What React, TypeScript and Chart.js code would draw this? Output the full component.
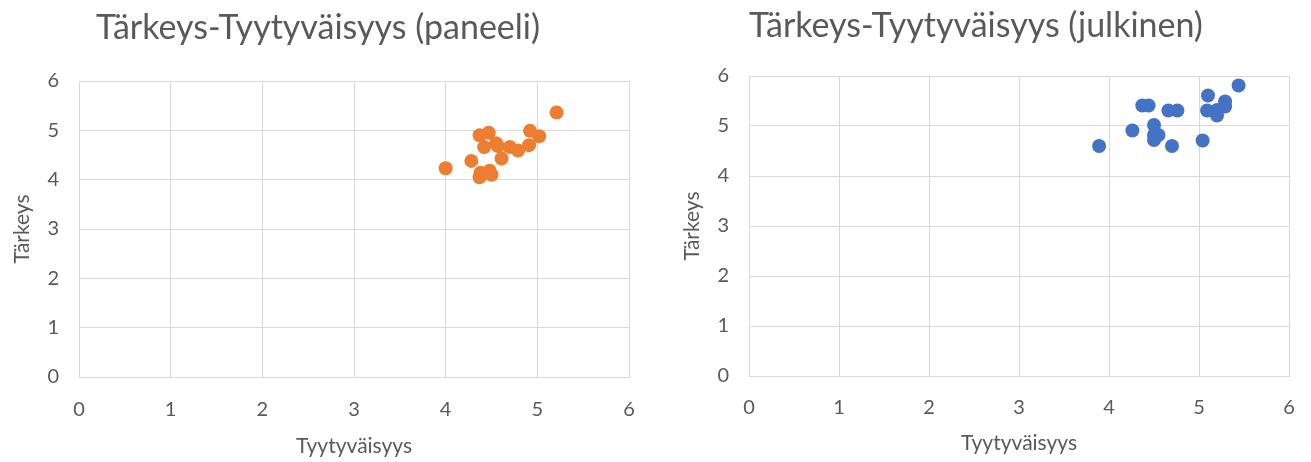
import React, { useEffect, useRef } from "react";
import { Chart, registerables } from "chart.js";

Chart.register(...registerables);

// Left chart (paneeli)
const panelTitle = "Tärkeys-Tyytyväisyys (paneeli)";
const panelX = [5.21, 4.0, 4.28, 4.37, 4.47, 4.42, 4.55, 4.57, 4.7, 4.79, 4.91, 4.92, 5.02, 4.61, 4.38, 4.48, 4.5, 4.37];
const panelY = [5.36, 4.23, 4.38, 4.9, 4.95, 4.66, 4.74, 4.68, 4.66, 4.59, 4.7, 4.99, 4.88, 4.43, 4.14, 4.18, 4.1, 4.05];

// Right chart (julkinen)
const publicTitle = "Tärkeys-Tyytyväisyys (julkinen)";
const publicX = [3.89, 4.26, 4.37, 4.44, 4.5, 4.5, 4.5, 4.55, 4.66, 4.76, 4.7, 5.04, 5.1, 5.09, 5.2, 5.2, 5.29, 5.29, 5.44];
const publicY = [4.6, 4.91, 5.41, 5.41, 5.02, 4.82, 4.72, 4.82, 5.31, 5.31, 4.6, 4.71, 5.61, 5.31, 5.32, 5.21, 5.49, 5.39, 5.81];

const xAxisTitle = "Tyytyväisyys";
const yAxisTitle = "Tärkeys";
const axisMin = 0;
const axisMax = 6;

const FONT = "Lato";
const TEXT = "#595959";
const GRID = "#d9d9d9";

type Props = {
  title: string;
  xs: number[];
  ys: number[];
  color: string;
  left: number;
  width: number;
  yAxisWidth: number;
  xAxisHeight: number;
  titlePadTop: number;
  titlePadBottom: number;
  yTitlePad: number;
  xTitlePad: number;
  xTickLine: number;
};

function ScatterChart(p: Props) {
  const ref = useRef<HTMLCanvasElement | null>(null);
  useEffect(() => {
    if (!ref.current) return;
    const chart = new Chart(ref.current, {
      type: "scatter",
      data: {
        datasets: [
          {
            data: p.xs.map((x, i) => ({ x, y: p.ys[i] })),
            backgroundColor: p.color,
            borderColor: p.color,
            pointRadius: 7,
            pointHoverRadius: 7,
            borderWidth: 0,
          },
        ],
      },
      options: {
        animation: false,
        responsive: false,
        layout: { padding: 0 },
        plugins: {
          legend: { display: false },
          tooltip: { enabled: false },
          title: {
            display: true,
            text: p.title,
            color: TEXT,
            font: { family: FONT, size: 34, weight: "normal" },
            padding: { top: p.titlePadTop, bottom: p.titlePadBottom },
          },
        },
        scales: {
          x: {
            type: "linear",
            min: axisMin,
            max: axisMax,
            ticks: {
              stepSize: 1,
              color: TEXT,
              padding: 0,
              font: { family: FONT, size: 20, lineHeight: `${p.xTickLine}px` },
            },
            grid: { color: GRID, drawTicks: false, lineWidth: 1 },
            border: { color: GRID },
            title: {
              display: true,
              text: xAxisTitle,
              color: TEXT,
              font: { family: FONT, size: 21 },
              padding: { top: 0, bottom: p.xTitlePad },
            },
            afterFit: (s: any) => {
              s.height = p.xAxisHeight;
            },
          },
          y: {
            type: "linear",
            min: axisMin,
            max: axisMax,
            ticks: { stepSize: 1, color: TEXT, padding: 20, font: { family: FONT, size: 20 } },
            grid: { color: GRID, drawTicks: false, lineWidth: 1 },
            border: { color: GRID },
            title: {
              display: true,
              text: yAxisTitle,
              color: TEXT,
              font: { family: FONT, size: 21 },
              padding: { top: p.yTitlePad, bottom: 0 },
            },
            afterFit: (s: any) => {
              s.width = p.yAxisWidth;
            },
          },
        },
      },
    });
    return () => chart.destroy();
  }, []);
  return (
    <div style={{ position: "absolute", left: p.left, top: 0, width: p.width, height: 462 }}>
      <canvas ref={ref} width={p.width} height={462} />
    </div>
  );
}

export default function App() {
  return (
    <div style={{ position: "fixed", left: 0, top: 0, width: 1311, height: 462, background: "#fff" }}>
      <ScatterChart
        title={panelTitle}
        xs={panelX}
        ys={panelY}
        color="#ED7D31"
        left={0}
        width={636}
        yAxisWidth={79}
        xAxisHeight={85}
        titlePadTop={7.6}
        titlePadBottom={32.6}
        yTitlePad={10}
        xTitlePad={3.4}
        xTickLine={65}
      />
      <ScatterChart
        title={publicTitle}
        xs={publicX}
        ys={publicY}
        color="#4472C4"
        left={656}
        width={640}
        yAxisWidth={93}
        xAxisHeight={86}
        titlePadTop={6}
        titlePadBottom={29.2}
        yTitlePad={24}
        xTitlePad={6.4}
        xTickLine={63}
      />
    </div>
  );
}
